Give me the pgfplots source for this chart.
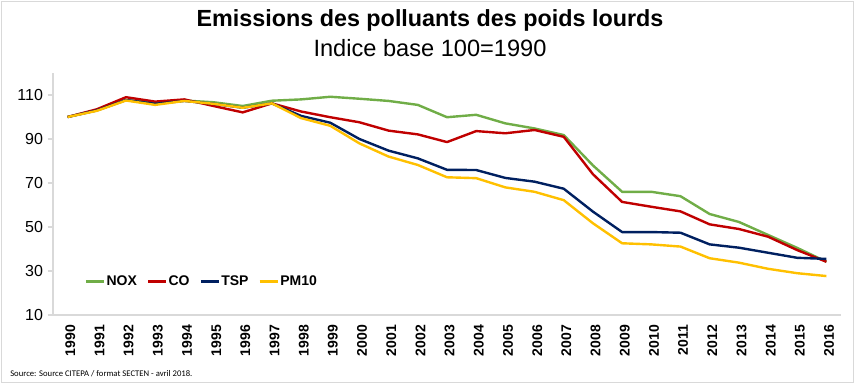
\documentclass[border=0pt]{standalone}
\usepackage{pgfplots}
\pgfplotsset{compat=1.18}
\usepackage{pgfplotstable}
\usepackage{fontspec}
\setmainfont{Liberation Sans}
\newfontfamily\srcfont{Carlito}
\definecolor{cnox}{HTML}{70AD47}
\definecolor{cco}{HTML}{C00000}
\definecolor{ctsp}{HTML}{002060}
\definecolor{cpm}{HTML}{FFC000}
\definecolor{axgray}{HTML}{D9D9D9}
\pgfplotstableread{
i  year NOX   CO    TSP   PM10
0  1990 100.0 100.0 100.0 100.0
1  1991 103.0 103.5 103.0 102.8
2  1992 107.7 109.0 107.7 107.5
3  1993 106.4 107.0 106.0 105.5
4  1994 107.5 108.0 107.3 107.3
5  1995 106.7 105.0 106.0 106.0
6  1996 105.0 102.1 104.2 104.2
7  1997 107.4 106.2 106.2 106.2
8  1998 108.0 102.5 100.5 99.5
9  1999 109.2 99.9  97.4  96.0
10 2000 108.3 97.6  90.0  88.0
11 2001 107.3 93.8  84.7  82.0
12 2002 105.5 92.1  81.2  78.2
13 2003 99.9  88.6  76.0  72.6
14 2004 101.0 93.6  75.9  72.2
15 2005 97.1  92.6  72.3  68.0
16 2006 94.8  94.1  70.6  66.0
17 2007 91.8  91.0  67.4  62.2
18 2008 78.0  74.0  57.0  51.7
19 2009 66.0  61.4  47.7  42.6
20 2010 66.0  59.2  47.7  42.1
21 2011 64.0  57.1  47.4  41.1
22 2012 55.9  51.2  42.1  35.8
23 2013 52.3  49.1  40.6  33.8
24 2014 46.4  45.6  38.3  31.0
25 2015 40.5  39.5  36.0  29.0
26 2016 34.2  34.2  35.5  27.7
}\datatable
\begin{document}
\begin{tikzpicture}
\begin{axis}[
  at={(0pt,0pt)}, anchor=south west,
  scale only axis, width=591pt, height=181.5pt,
  xmin=-0.5, xmax=26.5, ymin=10, ymax=120,
  axis x line=bottom, axis y line=left,
  axis line style={-, axgray, line width=0.8pt},
  xtick={0,...,26},
  xticklabels={1990,1991,1992,1993,1994,1995,1996,1997,1998,1999,2000,2001,2002,2003,2004,2005,2006,2007,2008,2009,2010,2011,2012,2013,2014,2015,2016},
  minor xtick={-0.5,0.5,...,26.5},
  xtick style={draw=none},
  minor tick style={axgray, line width=0.8pt},
  minor tick length=4pt,
  xticklabel style={rotate=90, anchor=east, font=\fontsize{10.5}{12}\selectfont\bfseries, xshift=0pt, yshift=-2pt},
  ytick={10,30,50,70,90,110},
  ytick style={axgray, line width=0.8pt},
  major tick length=4pt,
  tick align=outside,
  yticklabel style={font=\fontsize{12}{14}\selectfont},
  /pgf/number format/assume math mode=true,
  every tick label/.append style={black},
  legend columns=4,
  legend style={at={(0.040,0.138)}, anchor=west, draw=none, fill=none, inner sep=0pt,
     font=\fontsize{10.5}{12}\selectfont\bfseries,
     nodes={inner xsep=1pt},
     /tikz/every even column/.append style={column sep=6.5pt}},
  legend image code/.code={\draw[#1] (0pt,0pt) -- (13.5pt,0pt);},
  every axis plot/.append style={line width=1.8pt, line join=round},
]
\addplot[cnox] table[x=i,y=NOX] {\datatable};
\addplot[cco] table[x=i,y=CO] {\datatable};
\addplot[ctsp] table[x=i,y=TSP] {\datatable};
\addplot[cpm] table[x=i,y=PM10] {\datatable};
\legend{NOX,CO,TSP,PM10}
\end{axis}
\begin{scope}[shift={(-39.75pt,-53.25pt)}]
\useasboundingbox (0pt,0pt) rectangle (645pt,289.5pt);
\draw[color=black!15, line width=0.75pt] (1.5pt,3pt) rectangle (640pt,288pt);
\node[font=\fontsize{17.5}{20}\selectfont\bfseries] at (322.5pt,274.5pt) {Emissions des polluants des poids lourds};
\node[font=\fontsize{17.7}{20}\selectfont] at (322.5pt,253.5pt) {Indice base 100=1990};
\node[anchor=west, font=\srcfont\fontsize{6.5}{7}\selectfont, inner sep=0pt] at (7.5pt,9.5pt) {Source: Source CITEPA / format SECTEN - avril 2018.};
\end{scope}
\end{tikzpicture}
\end{document}
